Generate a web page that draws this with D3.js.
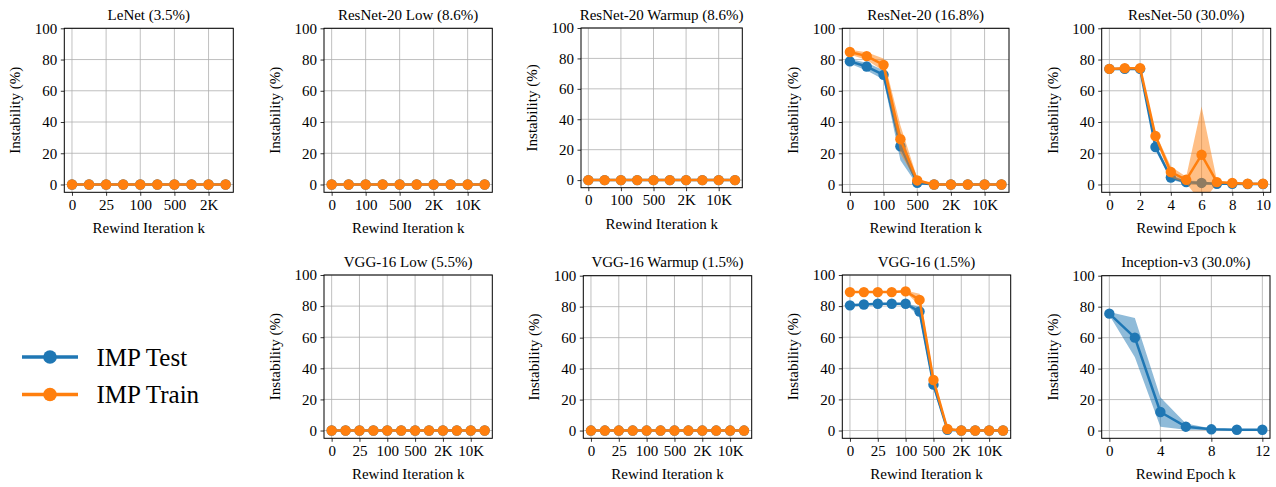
<!DOCTYPE html>
<html>
<head>
<meta charset="utf-8">
<script src="https://cdn.jsdelivr.net/npm/d3@7"></script>
<style>
  html, body { margin: 0; padding: 0; background: #fff; }
  svg { display: block; font-family: "Liberation Serif", "DejaVu Serif", serif; }
</style>
</head>
<body>
<svg id="chart" width="1276" height="487"></svg>
<script>
// ---------------- DATA ----------------
const seriesNames = ["IMP Test", "IMP Train"];
const yTicks = [0, 20, 40, 60, 80, 100];

// LeNet (3.5%)
const lenetCats = ["0", "12", "25", "50", "100", "250", "500", "1K", "2K", "5K"];
const lenetTest = [0, 0, 0, 0, 0, 0, 0, 0, 0, 0];
const lenetTestStd = [0, 0, 0, 0, 0, 0, 0, 0, 0, 0];
const lenetTrain = [0, 0, 0, 0, 0, 0, 0, 0, 0, 0];
const lenetTrainStd = [0, 0, 0, 0, 0, 0, 0, 0, 0, 0];

// ResNet-20 Low (8.6%)
const rn20LowCats = ["0", "50", "100", "250", "500", "1K", "2K", "5K", "10K", "20K"];
const rn20LowTest = [0, 0, 0, 0, 0, 0, 0, 0, 0, 0];
const rn20LowTestStd = [0, 0, 0, 0, 0, 0, 0, 0, 0, 0];
const rn20LowTrain = [0, 0, 0, 0, 0, 0, 0, 0, 0, 0];
const rn20LowTrainStd = [0, 0, 0, 0, 0, 0, 0, 0, 0, 0];

// ResNet-20 Warmup (8.6%)
const rn20WarmCats = ["0", "50", "100", "250", "500", "1K", "2K", "5K", "10K", "20K"];
const rn20WarmTest = [0, 0, 0, 0, 0, 0, 0, 0, 0, 0];
const rn20WarmTestStd = [0, 0, 0, 0, 0, 0, 0, 0, 0, 0];
const rn20WarmTrain = [0, 0, 0, 0, 0, 0, 0, 0, 0, 0];
const rn20WarmTrainStd = [0, 0, 0, 0, 0, 0, 0, 0, 0, 0];

// ResNet-20 (16.8%)
const rn20Cats = ["0", "50", "100", "250", "500", "1K", "2K", "5K", "10K", "20K"];
const rn20Test = [78.8, 75.5, 70.2, 24.5, 1.1, 0, 0, 0, 0, 0];
const rn20TestStd = [1.5, 2.5, 3, 9, 1.5, 0, 0, 0, 0, 0];
const rn20Train = [84.8, 82.2, 76.6, 29, 2.6, 0, 0, 0, 0, 0];
const rn20TrainStd = [1.5, 2.5, 4, 9, 1.5, 0, 0, 0, 0, 0];

// ResNet-50 (30.0%)
const rn50Epochs = [0, 1, 2, 3, 4, 5, 6, 7, 8, 9, 10];
const rn50TickVals = [0, 2, 4, 6, 8, 10];
const rn50Test = [74, 74, 74, 24, 4.5, 1.5, 1, 0.5, 0.5, 0.3, 0.3];
const rn50TestStd = [0.5, 0.5, 0.5, 2, 1.5, 1, 1, 0.3, 0.3, 0.2, 0.2];
const rn50Train = [74, 74.5, 74.5, 31, 8, 3, 19, 1.5, 1, 0.5, 0.5];
const rn50TrainStd = [0.5, 0.5, 0.5, 2, 3.5, 2, 31, 1, 0.5, 0.3, 0.3];

// VGG-16 Low (5.5%)
const vggLowCats = ["0", "12", "25", "50", "100", "250", "500", "1K", "2K", "5K", "10K", "20K"];
const vggLowTest = [0, 0, 0, 0, 0, 0, 0, 0, 0, 0, 0, 0];
const vggLowTestStd = [0, 0, 0, 0, 0, 0, 0, 0, 0, 0, 0, 0];
const vggLowTrain = [0, 0, 0, 0, 0, 0, 0, 0, 0, 0, 0, 0];
const vggLowTrainStd = [0, 0, 0, 0, 0, 0, 0, 0, 0, 0, 0, 0];

// VGG-16 Warmup (1.5%)
const vggWarmCats = ["0", "12", "25", "50", "100", "250", "500", "1K", "2K", "5K", "10K", "20K"];
const vggWarmTest = [0, 0, 0, 0, 0, 0, 0, 0, 0, 0, 0, 0];
const vggWarmTestStd = [0, 0, 0, 0, 0, 0, 0, 0, 0, 0, 0, 0];
const vggWarmTrain = [0, 0, 0, 0, 0, 0, 0, 0, 0, 0, 0, 0];
const vggWarmTrainStd = [0, 0, 0, 0, 0, 0, 0, 0, 0, 0, 0, 0];

// VGG-16 (1.5%)
const vggCats = ["0", "12", "25", "50", "100", "250", "500", "1K", "2K", "5K", "10K", "20K"];
const vggTest = [80.5, 81, 81.5, 81.5, 81.5, 76.5, 29.5, 0.5, 0, 0, 0, 0];
const vggTestStd = [0.5, 0.5, 0.5, 0.5, 0.5, 3, 3, 0.5, 0, 0, 0, 0];
const vggTrain = [89, 89, 89, 89, 89.5, 84, 32.5, 1, 0, 0, 0, 0];
const vggTrainStd = [0.5, 0.5, 0.5, 0.5, 0.5, 4, 3, 0.5, 0, 0, 0, 0];

// Inception-v3 (30.0%)
const incEpochs = [0, 2, 4, 6, 8, 10, 12];
const incTickVals = [0, 4, 8, 12];
const incTest = [75.5, 60, 12, 2.5, 0.8, 0.5, 0.5];
const incTestStd = [1, 12.7, 9.5, 2, 0.5, 0.3, 0.3];

// ---------------- LAYOUT ----------------
const colors = ["#1f77b4", "#ff7f0e"];
const iterLabel = "Rewind Iteration k";
const epochLabel = "Rewind Epoch k";

function catPanel(title, cats, test, testStd, train, trainStd, box) {
  const xs = cats.map((c, i) => i);
  return {
    title, box, xs, xLabel: iterLabel,
    tickVals: xs.filter(i => i % 2 === 0),
    tickFmt: i => cats[i],
    series: [
      { vals: test, std: testStd, color: colors[0] },
      { vals: train, std: trainStd, color: colors[1] }
    ]
  };
}

const panels = [
  catPanel("LeNet (3.5%)", lenetCats, lenetTest, lenetTestStd, lenetTrain, lenetTrainStd, [64.3, 28.3, 233.3, 192.3]),
  catPanel("ResNet-20 Low (8.6%)", rn20LowCats, rn20LowTest, rn20LowTestStd, rn20LowTrain, rn20LowTrainStd, [324, 28.3, 492.3, 192.3]),
  catPanel("ResNet-20 Warmup (8.6%)", rn20WarmCats, rn20WarmTest, rn20WarmTestStd, rn20WarmTrain, rn20WarmTrainStd, [581, 28, 742.3, 187.7]),
  catPanel("ResNet-20 (16.8%)", rn20Cats, rn20Test, rn20TestStd, rn20Train, rn20TrainStd, [842.3, 28.3, 1009, 192.3]),
  {
    title: "ResNet-50 (30.0%)", box: [1101.7, 28.3, 1270.7, 192.3],
    xs: rn50Epochs, xLabel: epochLabel, tickVals: rn50TickVals, tickFmt: d => d,
    series: [
      { vals: rn50Test, std: rn50TestStd, color: colors[0] },
      { vals: rn50Train, std: rn50TrainStd, color: colors[1] }
    ]
  },
  catPanel("VGG-16 Low (5.5%)", vggLowCats, vggLowTest, vggLowTestStd, vggLowTrain, vggLowTrainStd, [324, 275, 492.3, 438.3]),
  catPanel("VGG-16 Warmup (1.5%)", vggWarmCats, vggWarmTest, vggWarmTestStd, vggWarmTrain, vggWarmTrainStd, [583.3, 275.7, 751.7, 438.3]),
  catPanel("VGG-16 (1.5%)", vggCats, vggTest, vggTestStd, vggTrain, vggTrainStd, [842.3, 275, 1010.7, 438.3]),
  {
    title: "Inception-v3 (30.0%)", box: [1101.7, 275.7, 1270, 438.3],
    xs: incEpochs, xLabel: epochLabel, tickVals: incTickVals, tickFmt: d => d,
    series: [
      { vals: incTest, std: incTestStd, color: colors[0] }
    ]
  }
];

// ---------------- DRAW ----------------
const svg = d3.select("#chart");
const FS = 15;

panels.forEach((p, pi) => {
  const [L, T, R, B] = p.box;
  const xmin = d3.min(p.xs), xmax = d3.max(p.xs);
  const pad = (xmax - xmin) * 0.05;
  const x = d3.scaleLinear().domain([xmin - pad, xmax + pad]).range([L, R]);
  const y = d3.scaleLinear().domain([-5, 100]).range([B, T]);

  const g = svg.append("g");
  const clipId = "clip" + pi;
  svg.append("clipPath").attr("id", clipId)
    .append("rect").attr("x", L).attr("y", T).attr("width", R - L).attr("height", B - T);

  // grid
  const grid = g.append("g").attr("stroke", "#b0b0b0").attr("stroke-width", 0.8);
  p.tickVals.forEach(v => {
    grid.append("line").attr("x1", x(v)).attr("x2", x(v)).attr("y1", T).attr("y2", B);
  });
  yTicks.forEach(v => {
    grid.append("line").attr("x1", L).attr("x2", R).attr("y1", y(v)).attr("y2", y(v));
  });

  const plot = g.append("g").attr("clip-path", `url(#${clipId})`);
  p.series.forEach(s => {
    const pts = p.xs.map((xv, i) => ({ x: xv, v: s.vals[i], sd: s.std[i] }));
    const area = d3.area().x(d => x(d.x)).y0(d => y(d.v - d.sd)).y1(d => y(d.v + d.sd));
    plot.append("path").datum(pts).attr("d", area)
      .attr("fill", s.color).attr("fill-opacity", 0.5).attr("stroke", "none");
    const line = d3.line().x(d => x(d.x)).y(d => y(d.v));
    plot.append("path").datum(pts).attr("d", line)
      .attr("fill", "none").attr("stroke", s.color).attr("stroke-width", 2.5)
      .attr("stroke-linejoin", "round");
    plot.selectAll(null).data(pts).enter().append("circle")
      .attr("cx", d => x(d.x)).attr("cy", d => y(d.v)).attr("r", 5.2)
      .attr("fill", s.color);
  });

  // axes
  const xAxis = d3.axisBottom(x).tickValues(p.tickVals).tickFormat(p.tickFmt)
    .tickSize(3.5).tickPadding(3.5);
  const gx = g.append("g").attr("transform", `translate(0,${B})`).call(xAxis);
  const yAxis = d3.axisLeft(y).tickValues(yTicks).tickSize(3.5).tickPadding(3.5);
  const gy = g.append("g").attr("transform", `translate(${L},0)`).call(yAxis);
  [gx, gy].forEach(ax => {
    ax.select(".domain").remove();
    ax.selectAll("line").attr("stroke", "#000").attr("stroke-width", 0.8);
    ax.selectAll("text").attr("font-size", FS).attr("fill", "#000")
      .attr("font-family", '"Liberation Serif", "DejaVu Serif", serif');
  });

  // spines
  g.append("rect").attr("x", L).attr("y", T).attr("width", R - L).attr("height", B - T)
    .attr("fill", "none").attr("stroke", "#000").attr("stroke-width", 1);

  // title
  g.append("text").attr("x", (L + R) / 2).attr("y", T - 8.5)
    .attr("text-anchor", "middle").attr("font-size", FS).text(p.title);
  // x label
  g.append("text").attr("x", (L + R) / 2).attr("y", B + 41)
    .attr("text-anchor", "middle").attr("font-size", FS).text(p.xLabel);
  // y label
  g.append("text")
    .attr("transform", `translate(${L - 44},${(T + B) / 2}) rotate(-90)`)
    .attr("text-anchor", "middle").attr("font-size", FS).text("Instability (%)");
});

// legend
const legend = svg.append("g");
seriesNames.forEach((name, i) => {
  const ly = 357 + i * 37.5;
  legend.append("line").attr("x1", 22).attr("x2", 78).attr("y1", ly).attr("y2", ly)
    .attr("stroke", colors[i]).attr("stroke-width", 3.5);
  legend.append("circle").attr("cx", 50).attr("cy", ly).attr("r", 6.8).attr("fill", colors[i]);
  legend.append("text").attr("x", 96.5).attr("y", ly + 8.5).attr("font-size", 25).text(name);
});
</script>
</body>
</html>
